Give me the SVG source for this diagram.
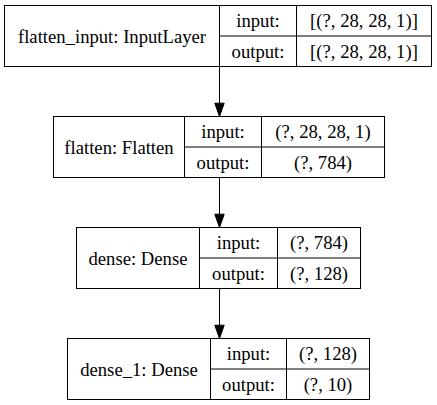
<svg xmlns="http://www.w3.org/2000/svg" width="437" height="405" viewBox="0 0 437 405">
<style>
.box{fill:#fff;stroke:#000;stroke-width:1}
.ln{stroke:#000;stroke-width:1;fill:none}
text{font-family:"Liberation Serif","Times New Roman",serif;font-size:18.67px;fill:#000;text-anchor:middle}
.ah{fill:#000;stroke:#000;stroke-width:1}
</style>
<rect width="437" height="405" fill="#fff"/>
<g id="connectors">
<line class="ln" x1="219.5" y1="66.5" x2="219.5" y2="103.5"/>
<polygon class="ah" points="214.8,103.2 224.2,103.2 219.5,116.5"/>
<line class="ln" x1="219.5" y1="177.5" x2="219.5" y2="214.5"/>
<polygon class="ah" points="214.8,214.2 224.2,214.2 219.5,227.5"/>
<line class="ln" x1="219.5" y1="288.5" x2="219.5" y2="325.5"/>
<polygon class="ah" points="214.8,325.2 224.2,325.2 219.5,338.5"/>
</g>
<g id="flatten_input">
<rect class="box" x="4.5" y="5.5" width="427" height="61"/>
<line class="ln" x1="219.5" y1="5.5" x2="219.5" y2="66.5"/>
<line class="ln" x1="296.5" y1="5.5" x2="296.5" y2="66.5"/>
<line class="ln" x1="219.5" y1="36" x2="431.5" y2="36"/>
<text x="112" y="42.5">flatten_input: InputLayer</text>
<text x="258" y="27.25">input:</text>
<text x="258" y="57.75">output:</text>
<text x="364" y="27.25">[(?, 28, 28, 1)]</text>
<text x="364" y="57.75">[(?, 28, 28, 1)]</text>
</g>
<g id="flatten">
<rect class="box" x="53.5" y="116.5" width="331" height="61"/>
<line class="ln" x1="184.5" y1="116.5" x2="184.5" y2="177.5"/>
<line class="ln" x1="261.5" y1="116.5" x2="261.5" y2="177.5"/>
<line class="ln" x1="184.5" y1="147" x2="384.5" y2="147"/>
<text x="119" y="153.5">flatten: Flatten</text>
<text x="223" y="138.25">input:</text>
<text x="223" y="168.75">output:</text>
<text x="323" y="138.25">(?, 28, 28, 1)</text>
<text x="323" y="168.75">(?, 784)</text>
</g>
<g id="dense">
<rect class="box" x="76.5" y="227.5" width="284" height="61"/>
<line class="ln" x1="199.5" y1="227.5" x2="199.5" y2="288.5"/>
<line class="ln" x1="277.5" y1="227.5" x2="277.5" y2="288.5"/>
<line class="ln" x1="199.5" y1="258" x2="360.5" y2="258"/>
<text x="138" y="264.5">dense: Dense</text>
<text x="238.5" y="249.25">input:</text>
<text x="238.5" y="279.75">output:</text>
<text x="319" y="249.25">(?, 784)</text>
<text x="319" y="279.75">(?, 128)</text>
</g>
<g id="dense_1">
<rect class="box" x="67.5" y="338.5" width="302" height="61"/>
<line class="ln" x1="210.5" y1="338.5" x2="210.5" y2="399.5"/>
<line class="ln" x1="286.5" y1="338.5" x2="286.5" y2="399.5"/>
<line class="ln" x1="210.5" y1="369" x2="369.5" y2="369"/>
<text x="139" y="375.5">dense_1: Dense</text>
<text x="248.5" y="360.25">input:</text>
<text x="248.5" y="390.75">output:</text>
<text x="328" y="360.25">(?, 128)</text>
<text x="328" y="390.75">(?, 10)</text>
</g>
</svg>
